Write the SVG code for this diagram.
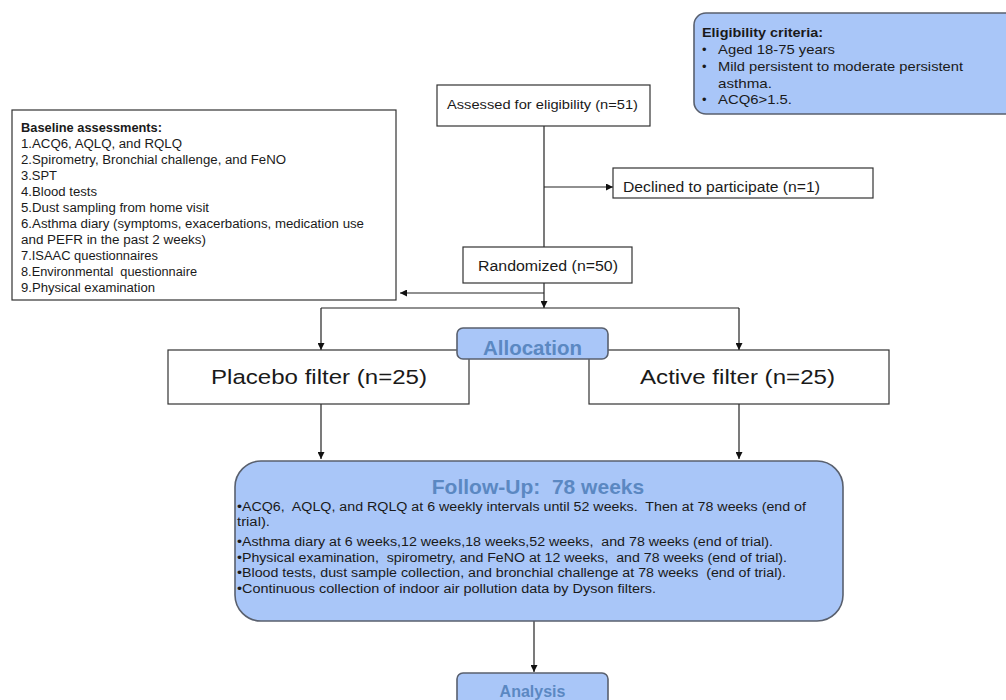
<svg xmlns="http://www.w3.org/2000/svg" width="1006" height="700" viewBox="0 0 1006 700">
  <defs>
    <marker id="arrow" viewBox="0 0 10 10" refX="10" refY="5" markerWidth="7" markerHeight="7" markerUnits="userSpaceOnUse" orient="auto">
      <path d="M0,0 L10,5 L0,10 z" fill="#111"/>
    </marker>
    <style>
      text { font-family: "Liberation Sans", Arial, sans-serif; fill: #1a1a1a; }
      .box { fill: #ffffff; stroke: #333333; stroke-width: 1.2; }
      .blue { fill: #a9c6f8; stroke: #59606e; stroke-width: 1.6; }
      .title { font-weight: bold; fill: #5b88c2; }
      .conn { fill: none; stroke: #222222; stroke-width: 1.2; }
      .s12 { font-size: 12px; }
      .s125 { font-size: 12.5px; }
      .s13 { font-size: 13px; }
      .s14 { font-size: 14px; }
      .s20 { font-size: 20.5px; }
    </style>
  </defs>

  <!-- connectors -->
  <g id="connectors">
    <line class="conn" x1="544" y1="126" x2="544" y2="247"/>
    <line class="conn" x1="544" y1="187" x2="613" y2="187" marker-end="url(#arrow)"/>
    <line class="conn" x1="544" y1="283" x2="544" y2="308" marker-end="url(#arrow)"/>
    <line class="conn" x1="544" y1="293" x2="400" y2="293" marker-end="url(#arrow)"/>
    <line class="conn" x1="321" y1="308" x2="739" y2="308"/>
    <line class="conn" x1="321" y1="308" x2="321" y2="350" marker-end="url(#arrow)"/>
    <line class="conn" x1="739" y1="308" x2="739" y2="350" marker-end="url(#arrow)"/>
    <line class="conn" x1="321" y1="404" x2="321" y2="459" marker-end="url(#arrow)"/>
    <line class="conn" x1="739" y1="404" x2="739" y2="459" marker-end="url(#arrow)"/>
    <line class="conn" x1="534" y1="621" x2="534" y2="672" marker-end="url(#arrow)"/>
  </g>

  <!-- eligibility criteria -->
  <g id="eligibility">
    <rect class="blue" x="694" y="13" width="330" height="101" rx="12"/>
    <text class="s13" x="702" y="37" font-weight="bold" textLength="121" lengthAdjust="spacingAndGlyphs">Eligibility criteria:</text>
    <text class="s13" x="702" y="54">•</text>
    <text class="s13" x="718" y="54" textLength="117" lengthAdjust="spacingAndGlyphs">Aged 18-75 years</text>
    <text class="s13" x="702" y="71">•</text>
    <text class="s13" x="718" y="71" textLength="245" lengthAdjust="spacingAndGlyphs">Mild persistent to moderate persistent</text>
    <text class="s13" x="718" y="88" textLength="54" lengthAdjust="spacingAndGlyphs">asthma.</text>
    <text class="s13" x="702" y="104">•</text>
    <text class="s13" x="718" y="104" textLength="74" lengthAdjust="spacingAndGlyphs">ACQ6&gt;1.5.</text>
  </g>

  <!-- baseline assessments -->
  <g id="baseline">
    <rect class="box" x="12" y="110" width="384" height="190"/>
    <text class="s12" x="21" y="132" font-weight="bold" textLength="141" lengthAdjust="spacingAndGlyphs">Baseline assessments:</text>
    <text class="s12" x="21" y="148" textLength="161" lengthAdjust="spacingAndGlyphs">1.ACQ6, AQLQ, and RQLQ</text>
    <text class="s12" x="21" y="164" textLength="265" lengthAdjust="spacingAndGlyphs">2.Spirometry, Bronchial challenge, and FeNO</text>
    <text class="s12" x="21" y="180" textLength="36" lengthAdjust="spacingAndGlyphs">3.SPT</text>
    <text class="s12" x="21" y="196" textLength="76" lengthAdjust="spacingAndGlyphs">4.Blood tests</text>
    <text class="s12" x="21" y="212" textLength="188" lengthAdjust="spacingAndGlyphs">5.Dust sampling from home visit</text>
    <text class="s12" x="21" y="228" textLength="343" lengthAdjust="spacingAndGlyphs">6.Asthma diary (symptoms, exacerbations, medication use</text>
    <text class="s12" x="21" y="244" textLength="185" lengthAdjust="spacingAndGlyphs">and PEFR in the past 2 weeks)</text>
    <text class="s12" x="21" y="260" textLength="137" lengthAdjust="spacingAndGlyphs">7.ISAAC questionnaires</text>
    <text class="s12" x="21" y="276" textLength="176" lengthAdjust="spacingAndGlyphs" xml:space="preserve">8.Environmental  questionnaire</text>
    <text class="s12" x="21" y="292" textLength="134" lengthAdjust="spacingAndGlyphs">9.Physical examination</text>
  </g>

  <!-- assessed for eligibility -->
  <g id="assessed">
    <rect class="box" x="437" y="85" width="213" height="41"/>
    <text class="s13" x="447" y="109" textLength="191" lengthAdjust="spacingAndGlyphs">Assessed for eligibility (n=51)</text>
  </g>

  <!-- declined -->
  <g id="declined">
    <rect class="box" x="613" y="168" width="260" height="30"/>
    <text class="s14" x="623" y="192" textLength="197" lengthAdjust="spacingAndGlyphs">Declined to participate (n=1)</text>
  </g>

  <!-- randomized -->
  <g id="randomized">
    <rect class="box" x="463" y="247" width="169" height="36"/>
    <text class="s14" x="478" y="271" textLength="140" lengthAdjust="spacingAndGlyphs">Randomized (n=50)</text>
  </g>

  <!-- placebo arm -->
  <g id="placebo">
    <rect class="box" x="168" y="350" width="301" height="54"/>
    <text class="s20" x="211" y="384" textLength="216" lengthAdjust="spacingAndGlyphs">Placebo filter (n=25)</text>
  </g>

  <!-- active arm -->
  <g id="active">
    <rect class="box" x="589" y="350" width="300" height="54"/>
    <text class="s20" x="640" y="384" textLength="195" lengthAdjust="spacingAndGlyphs">Active filter (n=25)</text>
  </g>

  <!-- allocation label -->
  <g id="allocation">
    <rect class="blue" x="457" y="328" width="151" height="31" rx="6" stroke-width="1.2"/>
    <text class="title s20" x="532.5" y="355" text-anchor="middle">Allocation</text>
  </g>

  <!-- follow-up -->
  <g id="followup">
    <rect class="blue" x="235" y="461" width="608" height="160" rx="26"/>
    <text class="title" x="538" y="494" font-size="21" text-anchor="middle" xml:space="preserve">Follow-Up:  78 weeks</text>
    <text class="s125" x="237" y="511" textLength="569" lengthAdjust="spacingAndGlyphs" xml:space="preserve">•ACQ6,  AQLQ, and RQLQ at 6 weekly intervals until 52 weeks.  Then at 78 weeks (end of</text>
    <text class="s125" x="237" y="526" textLength="33" lengthAdjust="spacingAndGlyphs">trial).</text>
    <text class="s125" x="237" y="546" textLength="536" lengthAdjust="spacingAndGlyphs" xml:space="preserve">•Asthma diary at 6 weeks,12 weeks,18 weeks,52 weeks,  and 78 weeks (end of trial).</text>
    <text class="s125" x="237" y="562" textLength="550" lengthAdjust="spacingAndGlyphs" xml:space="preserve">•Physical examination,  spirometry, and FeNO at 12 weeks,  and 78 weeks (end of trial).</text>
    <text class="s125" x="237" y="577" textLength="549" lengthAdjust="spacingAndGlyphs" xml:space="preserve">•Blood tests, dust sample collection, and bronchial challenge at 78 weeks  (end of trial).</text>
    <text class="s125" x="237" y="593" textLength="419" lengthAdjust="spacingAndGlyphs">•Continuous collection of indoor air pollution data by Dyson filters.</text>
  </g>

  <!-- analysis -->
  <g id="analysis">
    <rect class="blue" x="457" y="673" width="151" height="40" rx="6" stroke-width="1.2"/>
    <text class="title" x="532.5" y="697" font-size="16" text-anchor="middle">Analysis</text>
  </g>
</svg>
